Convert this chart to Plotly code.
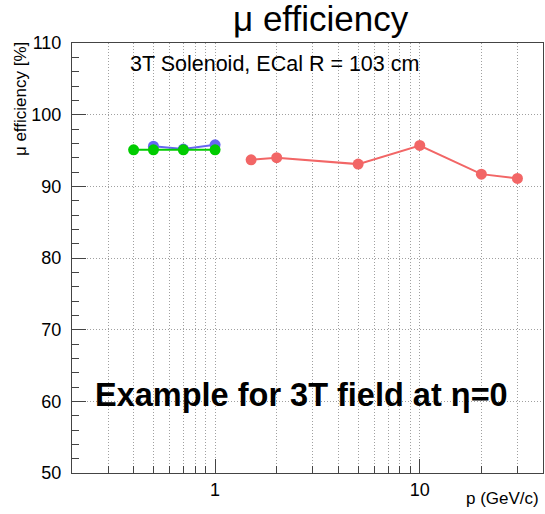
import plotly.graph_objects as go

# Data
p_red = [1.5, 2, 5, 10, 20, 30]
eff_red = [93.7, 94.0, 93.1, 95.7, 91.7, 91.1]

p_blue = [0.5, 0.7, 1.0]
eff_blue = [95.6, 95.2, 95.8]

p_green = [0.4, 0.5, 0.7, 1.0]
eff_green = [95.1, 95.1, 95.1, 95.1]

x_major = [1, 10]
x_major_labels = ["1", "10"]
x_minor = [0.3, 0.4, 0.5, 0.6, 0.7, 0.8, 0.9, 2, 3, 4, 5, 6, 7, 8, 9, 20, 30]

RED = "#F26666"
BLUE = "#6666F2"
GREEN = "#00CC00"
FONT = "Liberation Sans, Arial, sans-serif"

fig = go.Figure()
for xs, ys, c in [(p_red, eff_red, RED), (p_blue, eff_blue, BLUE), (p_green, eff_green, GREEN)]:
    fig.add_trace(go.Scatter(x=xs, y=ys, mode="lines+markers",
                             line=dict(color=c, width=2),
                             marker=dict(color=c, size=11),
                             showlegend=False))

grid = dict(gridcolor="#a0a0a0", griddash="1px,2px", gridwidth=1)

fig.update_xaxes(type="log", range=[-0.69897, 1.60206],
                 tickmode="array", tickvals=x_major, ticktext=x_major_labels,
                 ticks="inside", ticklen=14, tickcolor="#444", tickwidth=1,
                 showline=True, linecolor="#444", linewidth=1, mirror=True,
                 showgrid=True, **grid,
                 minor=dict(tickmode="array", tickvals=x_minor, ticks="inside",
                            ticklen=7, tickcolor="#444", showgrid=True, **grid),
                 tickfont=dict(family=FONT, size=18, color="black"),
                 zeroline=False)
fig.update_yaxes(range=[50, 110], dtick=10, tick0=50,
                 ticks="inside", ticklen=14, tickcolor="#444", tickwidth=1,
                 showline=True, linecolor="#444", linewidth=1, mirror=True,
                 showgrid=True, **grid,
                 minor=dict(dtick=2, ticks="inside", ticklen=7, tickcolor="#444", showgrid=False),
                 tickfont=dict(family=FONT, size=18, color="black"),
                 ticklabelstandoff=6,
                 zeroline=False)

fig.add_annotation(text="μ efficiency", xref="paper", yref="paper", x=0.529, y=1.058,
                   showarrow=False, font=dict(family=FONT, size=35, color="black"),
                   xanchor="center", yanchor="middle")
fig.add_annotation(text="3T Solenoid, ECal R = 103 cm", xref="paper", yref="paper",
                   x=0.119, y=0.951, showarrow=False, xanchor="left", yanchor="middle",
                   font=dict(family=FONT, size=21.5, color="black"))
fig.add_annotation(text="<b>Example for 3T field at η=0</b>", xref="paper", yref="paper",
                   x=0.0446, y=0.181, showarrow=False, xanchor="left", yanchor="middle",
                   font=dict(family=FONT, size=32.5, color="black"))
fig.add_annotation(text="p (GeV/c)", xref="paper", yref="paper", x=0.996, y=-0.06,
                   showarrow=False, xanchor="right", yanchor="middle",
                   font=dict(family=FONT, size=17, color="black"))
fig.add_annotation(text="μ efficiency [%]", xref="paper", yref="paper", x=-0.108, y=1.007,
                   showarrow=False, xanchor="center", yanchor="top", textangle=-90,
                   font=dict(family=FONT, size=17, color="black"))

fig.update_layout(width=545, height=514, margin=dict(l=72, r=2, t=43, b=41),
                  paper_bgcolor="white", plot_bgcolor="white")

fig.write_html("out.html")
